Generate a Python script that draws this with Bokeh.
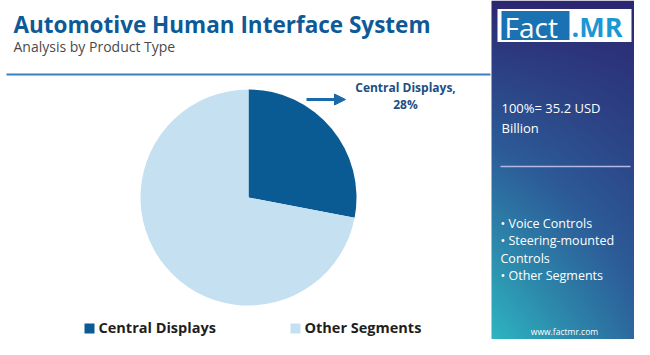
import numpy as np
from bokeh.plotting import figure
from bokeh.models import Range1d, Arrow, NormalHead
from bokeh.core.properties import value
from bokeh.embed import file_html
from bokeh.resources import INLINE

# ---- data ----
title = "Automotive Human Interface System"
subtitle = "Analysis by Product Type"
categories = ["Central Displays", "Other Segments"]
shares = [28, 72]
slice_colors = ["#0a5a93", "#c4e0f1"]
callout_lines = ["Central Displays,", "28%"]
total_lines = ["100%= 35.2 USD", "Billion"]
other_lines = ["\u2022 Voice Controls", "\u2022 Steering-mounted", "Controls", "\u2022 Other Segments"]
website = "www.factmr.com"

FONT = value("Open Sans")

def Y(v):
    return -np.asarray(v, dtype=float)

p = figure(width=634, height=339, x_range=Range1d(0, 634), y_range=Range1d(-339, 0),
           output_backend="svg", toolbar_location=None, min_border=0)
p.axis.visible = False
p.grid.visible = False
p.outline_line_color = None
p.background_fill_color = "white"
p.border_fill_color = "white"

# ---- right panel gradient (diagonal: teal bottom-left -> blue -> indigo top-right) ----
W, H = 159, 355
yy, xx = np.mgrid[0:H, 0:W]
u = (yy + 0.5) / H          # row 0 is bottom, u = fraction of height from bottom
xf = (xx + 0.5) / W
t = np.clip((1 - 0.5 * xf) * (1 - u) ** 0.9, 0, 1)
c0 = np.array([44, 38, 112])
cm = np.array([44, 92, 152])
c1 = np.array([46, 190, 196])
t3 = t[..., None]
lo = c0 + (cm - c0) * np.clip(t3 / 0.45, 0, 1)
rgb = np.where(t3 < 0.45, lo, cm + (c1 - cm) * np.clip((t3 - 0.45) / 0.55, 0, 1))
img = np.empty((H, W), dtype=np.uint32)
view = img.view(dtype=np.uint8).reshape((H, W, 4))
view[..., 0] = rgb[..., 0].astype(np.uint8)
view[..., 1] = rgb[..., 1].astype(np.uint8)
view[..., 2] = rgb[..., 2].astype(np.uint8)
view[..., 3] = 255
p.image_rgba(image=[img], x=491, y=-355, dw=W, dh=H)

# ---- title ----
p.text(x=[13], y=Y([24]), text=[title], text_font=FONT, text_font_size="22.5px",
       text_font_style="bold", text_color="#0d5a97", text_baseline="middle")
p.text(x=[13], y=Y([46]), text=[subtitle], text_font=FONT, text_font_size="14px",
       text_color="#4a4a4a", text_baseline="middle")
p.line(x=[6, 490], y=Y([74, 74]), line_color="#3a80c0", line_width=2)

# ---- pie ----
cx, cy, r = 248, -197, 108
fr = np.array(shares, dtype=float) / sum(shares)
cum = np.concatenate([[0], np.cumsum(fr)])
starts = np.pi / 2 - 2 * np.pi * cum[:-1]
ends = np.pi / 2 - 2 * np.pi * cum[1:]
p.wedge(x=cx, y=cy, radius=r, start_angle=starts, end_angle=ends, direction="clock",
        fill_color=slice_colors, line_color=None)

# callout
p.add_layout(Arrow(end=NormalHead(size=11, fill_color="#1a6aab", line_color="#1a6aab"),
                   x_start=306, y_start=-99, x_end=345, y_end=-99,
                   line_color="#1a6aab", line_width=3))
p.text(x=[405, 405], y=Y([87, 104]), text=callout_lines, text_font=FONT, text_font_size="12px",
       text_font_style="bold", text_color="#1b4f82", text_align="center", text_baseline="middle")

# ---- legend ----
leg_x = [84, 290]
p.rect(x=[v + 5 for v in leg_x], y=Y([328, 328]), width=10, height=10,
       fill_color=slice_colors, line_color=None)
p.text(x=[v + 14 for v in leg_x], y=Y([327, 327]), text=categories, text_font=FONT,
       text_font_size="14.5px", text_font_style="bold", text_color="#1e1e1e", text_baseline="middle")

# ---- logo ----
p.rect(x=[564], y=Y([25]), width=134, height=33, fill_color="white", line_color=None)
p.rect(x=[535], y=Y([25]), width=68, height=29, fill_color="#1a72b3", line_color=None)
p.text(x=[504], y=Y([26]), text=["Fact"], text_font=FONT, text_font_size="28px",
       text_color="white", text_baseline="middle")
p.text(x=[571], y=Y([26]), text=[".MR"], text_font=FONT, text_font_size="27px",
       text_font_style="bold", text_color="#1b97d4", text_baseline="middle")

# ---- panel texts ----
p.text(x=[501, 501], y=Y([107, 127]), text=total_lines, text_font=FONT, text_font_size="13px",
       text_color="white", text_baseline="middle")
p.line(x=[500, 630], y=Y([166, 166]), line_color="#b4b8e4", line_width=1.5)
p.text(x=[500] * 4, y=Y([223, 240, 258, 275]), text=other_lines, text_font=FONT,
       text_font_size="12.5px", text_color="white", text_baseline="middle")
p.text(x=[564], y=Y([331]), text=[website], text_font=FONT, text_font_size="8.5px",
       text_color="white", text_align="center", text_baseline="middle")

open("out.html", "w").write(file_html(p, INLINE))
